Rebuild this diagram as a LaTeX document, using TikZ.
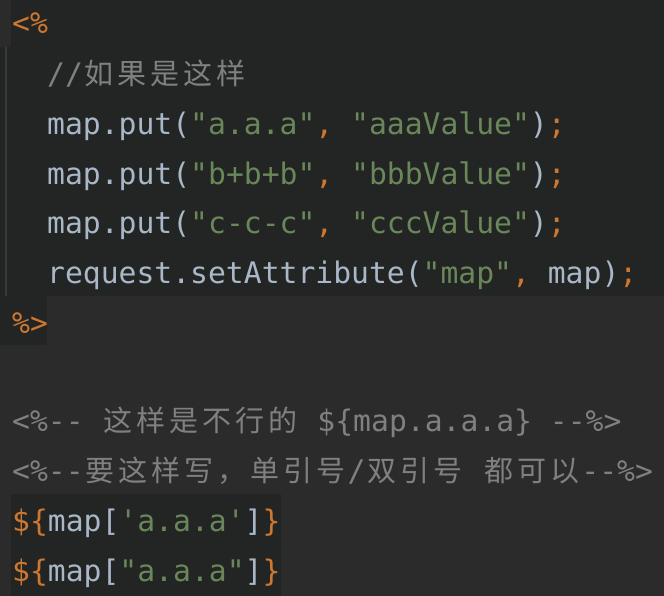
\documentclass[tikz,border=0pt]{standalone}
\usepackage{fontspec}
\setmonofont{DejaVu Sans Mono}[Scale=1.0]
\newfontfamily\cjkf{Noto Sans CJK SC}
\definecolor{bg}{HTML}{2B2B2B}
\definecolor{dk}{HTML}{232525}
\definecolor{gl}{HTML}{393939}
\definecolor{org}{HTML}{CC7832}
\definecolor{grn}{HTML}{6A8759}
\definecolor{txt}{HTML}{A9B7C6}
\definecolor{cmt}{HTML}{808080}
\newcommand{\cc}[1]{\makebox[33pt]{\cjkf\fontsize{29}{30}\selectfont #1}}
\newcommand{\kwo}[1]{{\color{org}#1}}
\newcommand{\kwg}[1]{{\color{grn}#1}}
\tikzset{code/.style={anchor=base west,inner sep=0pt,text=txt,font=\ttfamily\fontsize{29.7}{30}\selectfont}}
\begin{document}
\begin{tikzpicture}[x=1pt,y=-1pt]
\fill[bg] (0,0) rectangle (664,596);
\fill[dk] (11,0) rectangle (664,47);
\fill[dk] (0,47) rectangle (664,296);
\fill[dk] (0,296) rectangle (47,345);
\fill[dk] (11,494) rectangle (281,596);
\draw[gl,line width=1.5pt] (6,47) -- (6,296);
\node[code] (l1) at (12,34) {\kwo{<\%}};
\node[code,text=cmt] (l2) at (47,84.5) {//\cc{如}\cc{果}\cc{是}\cc{这}\cc{样}};
\node[code] (l3) at (47,135) {map.put(\kwg{"a.a.a"}\kwo{,} \kwg{"aaaValue"})\kwo{;}};
\node[code] (l4) at (47,184.5) {map.put(\kwg{"b+b+b"}\kwo{,} \kwg{"bbbValue"})\kwo{;}};
\node[code] (l5) at (47,234) {map.put(\kwg{"c-c-c"}\kwo{,} \kwg{"cccValue"})\kwo{;}};
\node[code] (l6) at (47,283.5) {request.setAttribute(\kwg{"map"}\kwo{,} map)\kwo{;}};
\node[code] (l7) at (12,333) {\kwo{\%>}};
\node[code,text=cmt] (l8) at (12,431) {<\%-- \cc{这}\cc{样}\cc{是}\cc{不}\cc{行}\cc{的} \$\{map.a.a.a\} --\%>};
\node[code,text=cmt] (l9) at (12,481) {<\%--\cc{要}\cc{这}\cc{样}\cc{写}\cc{，}\cc{单}\cc{引}\cc{号}/\cc{双}\cc{引}\cc{号} \cc{都}\cc{可}\cc{以}--\%>};
\node[code] (l10) at (12,531) {\kwo{\$\{}map[\kwg{'a.a.a'}]\kwo{\}}};
\node[code] (l11) at (12,581) {\kwo{\$\{}map[\kwg{"a.a.a"}]\kwo{\}}};
\end{tikzpicture}
\end{document}
